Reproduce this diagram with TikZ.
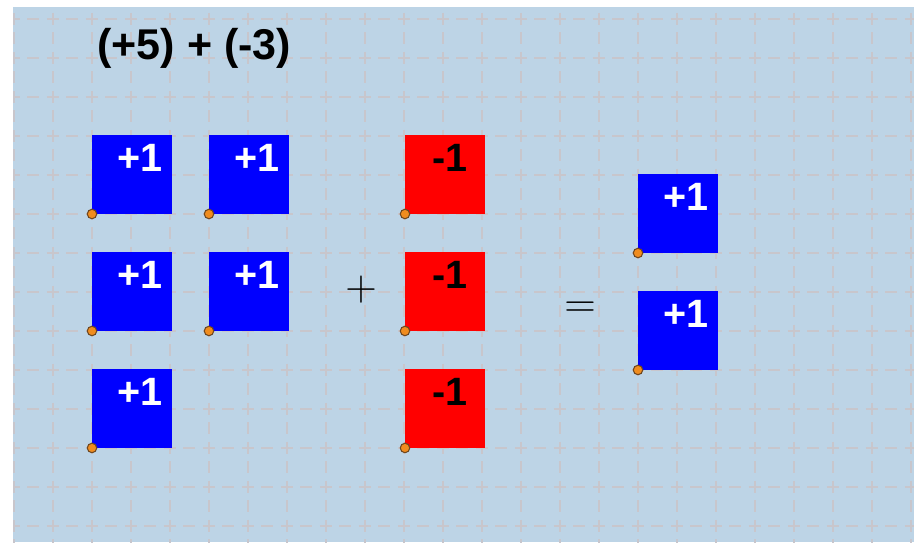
\documentclass[tikz,border=0pt]{standalone}
\usepackage{fontspec}
\setsansfont{Liberation Sans}
\usetikzlibrary{positioning}
\definecolor{paper}{RGB}{189,212,230}
\definecolor{gridline}{RGB}{200,198,204}
\definecolor{tileblue}{RGB}{0,0,255}
\definecolor{tilered}{RGB}{255,0,0}
\definecolor{pinfill}{RGB}{240,140,30}
\definecolor{pinedge}{RGB}{110,70,30}
\tikzset{%
  % Specifications for style of tiles:
   tile/.style = {rectangle, minimum width=1.6cm, minimum height=1.58cm,
                  inner sep=0pt, outer sep=0pt},
   postile/.style = {tile, fill=tileblue},
   negtile/.style = {tile, fill=tilered},
  % Specifications for style of texts:
   tilelabel/.style = {inner sep=0pt,
                  font=\sffamily\bfseries\fontsize{22.5}{24}\selectfont},
   poslabel/.style = {tilelabel, text=white},
   neglabel/.style = {tilelabel, text=black},
   titletext/.style = {inner sep=0pt,
                  font=\sffamily\bfseries\fontsize{24.5}{28}\selectfont},
   sign/.style = {inner sep=0pt, font=\fontsize{31}{34}\selectfont},
   pin/.style = {circle, draw=pinedge, fill=pinfill, line width=0.6pt,
                  minimum size=0.19cm, inner sep=0pt},
  % Specifications for style of the grid:
   gridstyle/.style = {draw=gridline, line width=0.7pt,
                  dash pattern=on 0.24cm off 0.15cm, dash phase=0.12cm},
}

\begin{document}
\begin{tikzpicture}[x=0.02cm, y=-0.02cm]

  \useasboundingbox (0,0) rectangle (914,542);

  % Paper and grid
  \fill[paper] (13,7) rectangle (914,542);
  \begin{scope}
    \clip (13,7) rectangle (914,542);
    \foreach \x in {14,53,...,911}
      \draw[gridstyle] (\x,-20) -- (\x,560);
    \foreach \y in {19,58,...,526}
      \draw[gridstyle] (-25,\y) -- (940,\y);
  \end{scope}

  % Title
  \node (title) [titletext, anchor=west] at (97,48) {(+5) + (-3)};

  % Positive tiles
  \node (P1) [postile, anchor=south west] at (92,214) {};
  \node (P2) [postile, right=0.74cm of P1] {};
  \node (P3) [postile, below=0.76cm of P1] {};
  \node (P4) [postile, right=0.74cm of P3] {};
  \node (P5) [postile, below=0.76cm of P3] {};

  % Negative tiles
  \node (N1) [negtile, anchor=south west] at (405,214) {};
  \node (N2) [negtile, below=0.76cm of N1] {};
  \node (N3) [negtile, below=0.76cm of N2] {};

  % Result tiles
  \node (R1) [postile, anchor=south west] at (638,253) {};
  \node (R2) [postile, below=0.76cm of R1] {};

  % Tile texts and pins
  \foreach \t in {P1,P2,P3,P4,P5,R1,R2} {
    \node (\t text) [poslabel, below right=0.18cm and 0.5cm of \t.north west] {+1};
    \node (\t pin) [pin] at (\t.south west) {};
  }
  \foreach \t in {N1,N2,N3} {
    \node (\t text) [neglabel, below right=0.18cm and 0.54cm of \t.north west] {-1};
    \node (\t pin) [pin] at (\t.south west) {};
  }

  % Operators
  \node (plus) [sign] at (361,290) {$+$};
  \node (equals) [sign] at (580,310) {$=$};

\end{tikzpicture}
\end{document}
